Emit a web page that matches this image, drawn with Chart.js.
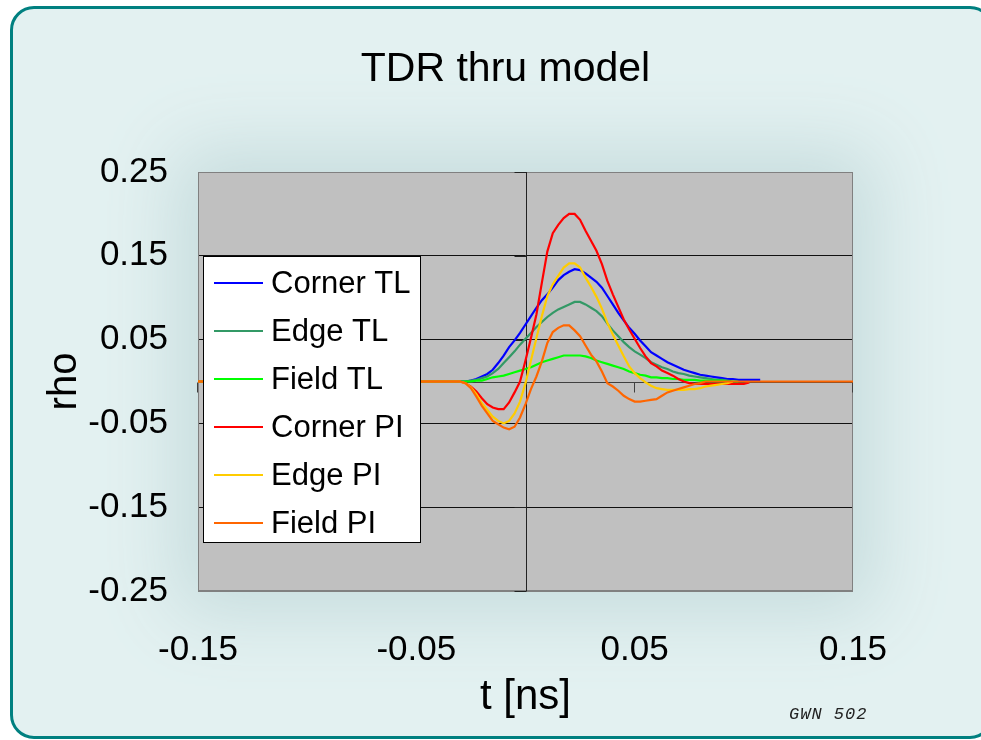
<!DOCTYPE html>
<html>
<head>
<meta charset="utf-8">
<title>TDR thru model</title>
<script src="https://cdn.jsdelivr.net/npm/chart.js@4.4.1/dist/chart.umd.min.js"></script>
<style>
  html, body { margin: 0; padding: 0; background: #fff; overflow: hidden; width: 981px; height: 740px; }
  #frame {
    position: absolute; left: 10px; top: 6px; width: 978px; height: 727px;
    border: 3px solid #008080; border-radius: 24px; background: #e3f1f1;
  }
  #glow {
    position: absolute; left: 198px; top: 172px; width: 655px; height: 419px;
    box-shadow: 0 0 70px 22px #c6dcdd; background: #c6dcdd;
  }
  #chart { position: absolute; left: 0; top: 0; }
  #stamp {
    position: absolute; left: 789px; top: 705px; line-height: 20px;
    font: italic 17px "Liberation Mono", "DejaVu Sans Mono", monospace;
    letter-spacing: 1px; color: #222;
  }
</style>
</head>
<body>
<div id="frame"></div>
<div id="glow"></div>
<canvas id="chart" width="981" height="740"></canvas>
<div id="stamp">GWN 502</div>
<script>
// time axis [ns]
const tValues = [-0.15,
  -0.03, -0.0275, -0.025, -0.0225, -0.02, -0.0175, -0.015, -0.0125, -0.01, -0.0075, -0.005, -0.0025,
  0, 0.0025, 0.005, 0.0075, 0.01, 0.0125, 0.015, 0.0175,
  0.02, 0.0225, 0.025, 0.0275, 0.03, 0.0325, 0.035, 0.0375,
  0.04, 0.0425, 0.045, 0.0475, 0.05, 0.0525, 0.055, 0.0575,
  0.06, 0.0625, 0.065, 0.0675, 0.07, 0.0725, 0.075, 0.0775,
  0.08, 0.0825, 0.085, 0.0875, 0.09, 0.0925, 0.095, 0.0975,
  0.1, 0.1025, 0.105, 0.1075, 0.11,
  0.15];

const cornerTL = [0,
  0, 0, 0.001, 0.003, 0.006, 0.009, 0.014, 0.022, 0.031, 0.041, 0.049, 0.058,
  0.068, 0.078, 0.088, 0.097, 0.104, 0.112, 0.121, 0.127,
  0.131, 0.134, 0.133, 0.129, 0.124, 0.119, 0.112, 0.102,
  0.092, 0.082, 0.073, 0.064, 0.057, 0.049, 0.042, 0.035,
  0.031, 0.027, 0.023, 0.020, 0.017, 0.014, 0.012, 0.010,
  0.008, 0.007, 0.006, 0.005, 0.004, 0.003, 0.003, 0.002,
  0.002, 0.002, 0.002, 0.002, null,
  null];

const edgeTL = [0,
  0, 0, 0.001, 0.002, 0.004, 0.006, 0.010, 0.015, 0.022, 0.029, 0.036, 0.044,
  0.051, 0.058, 0.065, 0.071, 0.077, 0.082, 0.086, 0.089,
  0.092, 0.095, 0.095, 0.092, 0.088, 0.084, 0.078, 0.069,
  0.061, 0.054, 0.047, 0.041, 0.036, 0.032, 0.028, 0.023,
  0.020, 0.017, 0.015, 0.012, 0.010, 0.009, 0.007, 0.006,
  0.005, 0.004, 0.003, 0.002, 0.002, 0.001, 0.000, null,
  null, null, null, null, null,
  null];

const fieldTL = [0,
  0, 0, 0, 0.001, 0.001, 0.003, 0.005, 0.006, 0.007, 0.009, 0.011, 0.013,
  0.015, 0.017, 0.020, 0.023, 0.025, 0.027, 0.029, 0.031,
  0.031, 0.031, 0.031, 0.030, 0.028, 0.025, 0.023, 0.021,
  0.019, 0.017, 0.015, 0.012, 0.010, 0.008, 0.007, 0.005,
  0.005, 0.004, 0.004, 0.003, 0.003, 0.002, 0.002, 0.002,
  0.001, 0.001, 0.001, 0.001, 0.001, 0.000, 0.000, 0.000,
  null, null, null, null, null,
  null];

const cornerPI = [0,
  0, -0.002, -0.006, -0.012, -0.020, -0.027, -0.031, -0.033, -0.033, -0.025, -0.013, 0.000,
  0.025, 0.052, 0.080, 0.118, 0.155, 0.177, 0.187, 0.195,
  0.200, 0.200, 0.193, 0.180, 0.168, 0.156, 0.140, 0.120,
  0.104, 0.089, 0.074, 0.062, 0.051, 0.040, 0.030, 0.022,
  0.018, 0.013, 0.010, 0.007, 0.003, 0.000, -0.002, -0.003,
  -0.003, -0.003, -0.003, -0.003, -0.003, -0.003, -0.003, -0.003,
  -0.003, -0.001, null, null, null,
  null];

const edgePI = [0,
  0, -0.002, -0.007, -0.015, -0.026, -0.034, -0.042, -0.047, -0.050, -0.047, -0.038, -0.024,
  -0.002, 0.025, 0.052, 0.078, 0.102, 0.116, 0.126, 0.136,
  0.141, 0.141, 0.136, 0.124, 0.113, 0.101, 0.087, 0.070,
  0.056, 0.043, 0.030, 0.018, 0.010, 0.004, -0.001, -0.005,
  -0.008, -0.009, -0.010, -0.010, -0.010, -0.010, -0.009, -0.009,
  -0.008, -0.006, -0.005, -0.004, -0.003, -0.002, 0.000, null,
  null, null, null, null, null,
  null];

const fieldPI = [0,
  0, -0.002, -0.008, -0.018, -0.029, -0.038, -0.047, -0.051, -0.055, -0.057, -0.054, -0.043,
  -0.027, -0.009, 0.006, 0.024, 0.046, 0.059, 0.064, 0.067,
  0.067, 0.061, 0.054, 0.043, 0.032, 0.024, 0.012, -0.002,
  -0.006, -0.011, -0.017, -0.021, -0.024, -0.024, -0.023, -0.022,
  -0.021, -0.017, -0.013, -0.011, -0.009, -0.007, -0.005, -0.003,
  -0.002, 0, 0, 0, 0, 0, 0, 0,
  0, 0, 0, 0, 0,
  0];

const seriesNames = ["Corner TL", "Edge TL", "Field TL", "Corner PI", "Edge PI", "Field PI"];
const seriesValues = [cornerTL, edgeTL, fieldTL, cornerPI, edgePI, fieldPI];
const seriesColors = ["#0000ff", "#339966", "#00ff00", "#ff0000", "#ffcc00", "#ff6600"];

const xTicks = [-0.15, -0.05, 0.05, 0.15];
const xTickLabels = ["-0.15", "-0.05", "0.05", "0.15"];
const yTicks = [-0.25, -0.15, -0.05, 0.05, 0.15, 0.25];
const yTickLabels = ["-0.25", "-0.15", "-0.05", "0.05", "0.15", "0.25"];

const chartTitle = "TDR thru model";
const FONT = '"Liberation Sans", Arial, sans-serif';

// gray plot area, border and the axes that cross at zero
const crossAxes = {
  id: "crossAxes",
  beforeDraw(chart) {
    const { ctx, chartArea: ca } = chart;
    ctx.save();
    ctx.fillStyle = "#c0c0c0";
    ctx.fillRect(ca.left, ca.top, ca.width, ca.height);
    ctx.restore();
  },
  beforeDatasetsDraw(chart) {
    const { ctx, chartArea: ca, scales } = chart;
    const x0 = Math.round(scales.x.getPixelForValue(0)) + 0.5;
    const y0 = Math.round(scales.y.getPixelForValue(0)) + 0.5;
    ctx.save();
    ctx.lineWidth = 1;
    ctx.strokeStyle = "#808080";
    ctx.strokeRect(ca.left + 0.5, ca.top + 0.5, ca.width - 1, ca.height - 1);

    ctx.strokeStyle = "#222";
    ctx.beginPath();
    ctx.moveTo(x0, ca.top);
    ctx.lineTo(x0, ca.bottom);
    yTicks.forEach(v => {
      const py = Math.round(scales.y.getPixelForValue(v)) + 0.5;
      ctx.moveTo(x0 - 12, py);
      ctx.lineTo(x0, py);
    });
    ctx.stroke();

    ctx.strokeStyle = "#404040";
    ctx.beginPath();
    ctx.moveTo(ca.left, y0);
    ctx.lineTo(ca.right, y0);
    xTicks.forEach(v => {
      const px = Math.round(scales.x.getPixelForValue(v)) - 0.5;
      ctx.moveTo(px, y0);
      ctx.lineTo(px, y0 + 10);
    });
    ctx.stroke();
    ctx.restore();
  },
  afterDraw(chart) {
    const { ctx, chartArea: ca } = chart;
    ctx.save();
    ctx.font = "41px " + FONT;
    ctx.fillStyle = "#000";
    ctx.textAlign = "center";
    ctx.textBaseline = "middle";
    ctx.fillText(chartTitle, (ca.left + ca.right) / 2 - 20, ca.top - 102);
    ctx.restore();
  }
};

// boxed legend drawn over the data, like the original
const legendBox = {
  id: "legendBox",
  afterDatasetsDraw(chart) {
    const { ctx, chartArea: ca } = chart;
    const left = ca.left + 5, top = ca.top + 84, w = 218, h = 287;
    ctx.save();
    ctx.fillStyle = "#fff";
    ctx.fillRect(left, top, w, h);
    ctx.strokeStyle = "#000";
    ctx.lineWidth = 1;
    ctx.strokeRect(left + 0.5, top + 0.5, w - 1, h - 1);
    ctx.font = "31px " + FONT;
    ctx.textBaseline = "middle";
    chart.data.datasets.forEach((ds, i) => {
      const y = Math.round(top + 27 + i * 47.9);
      ctx.strokeStyle = ds.borderColor;
      ctx.lineWidth = 2;
      ctx.beginPath();
      ctx.moveTo(left + 11, y);
      ctx.lineTo(left + 60, y);
      ctx.stroke();
      ctx.fillStyle = "#000";
      ctx.fillText(ds.label, left + 68, y + 1);
    });
    ctx.restore();
  }
};

new Chart(document.getElementById("chart"), {
  type: "line",
  data: {
    datasets: seriesValues.map((vals, i) => ({
      label: seriesNames[i],
      data: tValues.map((t, j) => ({ x: t, y: vals[j] })),
      borderColor: seriesColors[i],
      backgroundColor: seriesColors[i],
      borderWidth: 2.2,
      pointRadius: 0,
      tension: 0,
      spanGaps: false,
      order: seriesValues.length - i
    }))
  },
  options: {
    responsive: false,
    animation: false,
    devicePixelRatio: 1,
    layout: { padding: { left: 0, right: 128, top: 172, bottom: 0 } },
    plugins: {
      legend: { display: false },
      tooltip: { enabled: false },
      title: { display: false }
    },
    scales: {
      x: {
        type: "linear",
        min: -0.15,
        max: 0.15,
        afterBuildTicks: s => { s.ticks = xTicks.map(v => ({ value: v })); },
        afterFit: s => { s.height = 149; },
        grid: { display: false },
        border: { display: false },
        ticks: {
          color: "#000",
          font: { family: FONT, size: 35 },
          padding: 30,
          maxRotation: 0,
          autoSkip: false,
          callback: (v, i) => xTickLabels[i]
        },
        title: {
          display: true,
          text: "t [ns]",
          color: "#000",
          font: { family: FONT, size: 42 },
          padding: { bottom: 17 }
        }
      },
      y: {
        min: -0.25,
        max: 0.25,
        afterBuildTicks: s => { s.ticks = yTicks.map(v => ({ value: v })); },
        afterFit: s => { s.width = 198; },
        grid: {
          color: c => (c.index === 0 || c.index === yTicks.length - 1) ? "#808080" : "#111",
          drawTicks: false,
          lineWidth: 1
        },
        border: { display: false },
        ticks: {
          color: "#000",
          font: { family: FONT, size: 35 },
          padding: 30,
          autoSkip: false,
          callback: (v, i) => yTickLabels[i]
        },
        title: {
          display: true,
          text: "rho",
          color: "#000",
          font: { family: FONT, size: 40 },
          padding: { top: 41 }
        }
      }
    }
  },
  plugins: [crossAxes, legendBox]
});
</script>
</body>
</html>
